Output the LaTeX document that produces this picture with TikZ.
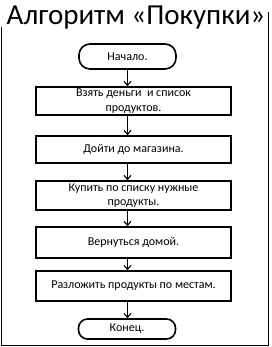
\documentclass[tikz,border=0pt]{standalone}
\usepackage{fontspec}
\setmainfont{Carlito}
\usetikzlibrary{arrows.meta}

\begin{document}
\begin{tikzpicture}[
  x=1pt, y=-1pt,
  font=\fontsize{12}{14.5}\selectfont,
  stepbox/.style={draw, line width=1.6pt, minimum width=195pt, align=center, inner sep=2pt},
  termbox/.style={draw, line width=1.6pt, rounded corners=11pt, minimum width=97pt, align=center},
  flow/.style={-{Straight Barb[length=4pt, width=7pt]}, line width=1.1pt},
]
\useasboundingbox (0,0) rectangle (271,347);
% frame
\draw[line width=1.5pt] (1.5,27) -- (1.5,345.5) -- (268.5,345.5) -- (268.5,12);
\node[font=\fontsize{29}{34}\selectfont, inner sep=0pt] (title) at (136,18) {Алгоритм «Покупки»};

\node[termbox, minimum height=25pt] (start) at (127.5,56.5) {Начало.};
\node[stepbox, minimum height=28pt] (s1) at (133.5,101) {Взять деньги\ \ и список\\продуктов.};
\node[stepbox, minimum height=27pt] (s2) at (133.5,149.5) {Дойти до магазина.};
\node[stepbox, minimum height=29pt] (s3) at (133.5,195.5) {Купить по списку нужные\\продукты.};
\node[stepbox, minimum height=31pt] (s4) at (133.5,242.5) {Вернуться домой.};
\node[stepbox, minimum height=30pt] (s5) at (133.5,286) {Разложить продукты по местам.};
\node[termbox, minimum height=20pt, rounded corners=9pt] (end) at (127,329) {Конец.};

\foreach \a/\b in {start/s1, s1/s2, s2/s3, s3/s4, s4/s5, s5/end}
  \draw[flow] (\a.south -| start) -- (\b.north -| start);
\end{tikzpicture}
\end{document}
